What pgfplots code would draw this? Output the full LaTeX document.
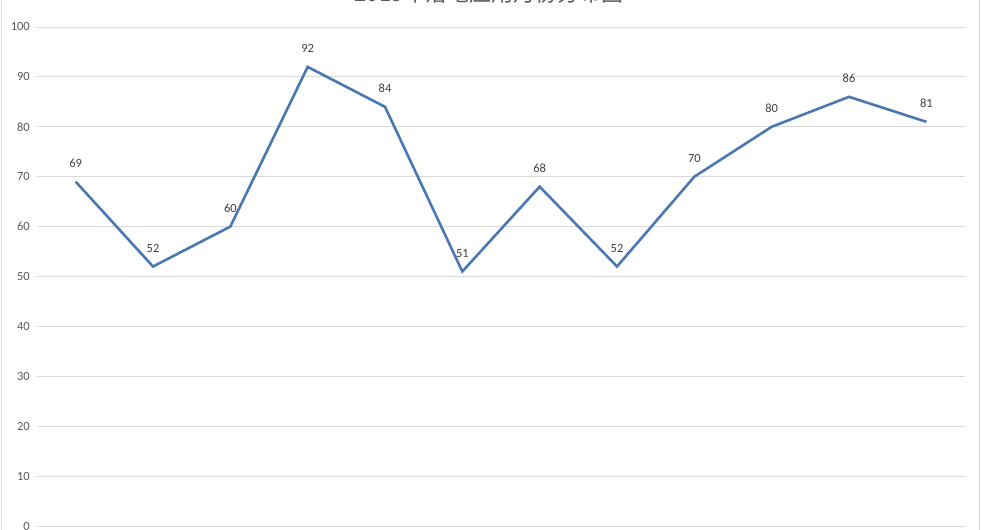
\documentclass[border=0pt]{standalone}
\usepackage{fontspec}
\setmainfont{Carlito}
\newfontfamily\cjk{Noto Sans CJK SC}
\usepackage{pgfplots}
\pgfplotsset{compat=1.18}
\definecolor{linec}{RGB}{74,120,178}
\definecolor{gridc}{RGB}{217,217,217}
\definecolor{textc}{RGB}{89,89,89}
\definecolor{labc}{RGB}{64,64,64}
\begin{document}
\begin{tikzpicture}[x=1bp,y=1bp]
\path[use as bounding box] (0,0) rectangle (981,530);
% chart area border
\draw[gridc, line width=1bp] (1.5,-10) -- (1.5,540) (979.5,-10) -- (979.5,540);
% title
\node[anchor=base, text=textc, inner sep=0pt, font=\cjk\fontsize{22bp}{26bp}\selectfont] at (489,528) {2019年落地应用月份分布图};
\begin{axis}[
  at={(37bp,4bp)}, anchor=south west,
  scale only axis, width=928bp, height=499bp,
  xmin=0.5, xmax=12.5, ymin=0, ymax=100,
  xtick=\empty, ytick={0,10,...,100},
  axis line style={draw=none},
  major tick length=0pt,
  ymajorgrids, grid style={gridc, line width=0.9bp},
  /pgf/number format/assume math mode=true,
  yticklabel style={text=textc, font=\fontsize{12.5bp}{14bp}\selectfont, inner sep=0pt, xshift=-7bp},
  clip=false,
]
\addplot[color=linec, line width=2.6bp, mark=none,
  nodes near coords,
  every node near coord/.style={text=labc, font=\fontsize{12.5bp}{14bp}\selectfont, anchor=south, inner sep=0pt, yshift=13bp}]
  coordinates {(1,69) (2,52) (3,60) (4,92) (5,84) (6,51) (7,68) (8,52) (9,70) (10,80) (11,86) (12,81)};
\end{axis}
\end{tikzpicture}
\end{document}
